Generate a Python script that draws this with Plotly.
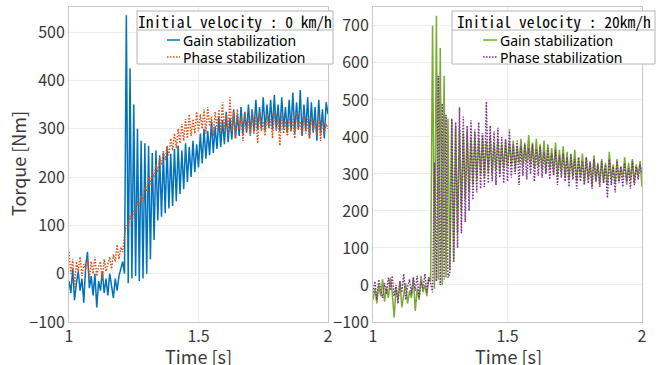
import numpy as np
import plotly.graph_objects as go

# ---------------- data ----------------
N_SAMPLES = 141
time_s = np.linspace(1.0, 2.0, N_SAMPLES)

gain_0kmh = [
    -15, -40, 10, -55, -20, 5, -35, -10, -60, 15,
    45, -30, -5, -45, 0, -70, -15, -35, 5, -40,
    -10, -45, 0, -30, -50, -10, -35, -5, 10, 25,
    0, 535, -20, 425, -10, 350, -5, 300, -15, 275,
    -10, 270, 0, 265, 30, 250, 70, 255, 110, 245,
    118, 250, 125, 262, 135, 248, 140, 258, 150, 265,
    165, 255, 175, 270, 190, 262, 200, 275, 210, 268,
    220, 290, 228, 300, 238, 295, 245, 315, 250, 305,
    258, 325, 262, 318, 268, 335, 272, 322, 278, 340,
    280, 330, 285, 345, 288, 335, 292, 350, 290, 340,
    295, 360, 298, 345, 300, 365, 296, 350, 302, 360,
    298, 370, 300, 350, 295, 365, 300, 345, 292, 360,
    295, 375, 290, 355, 298, 380, 285, 350, 295, 365,
    280, 355, 292, 345, 275, 360, 290, 340, 280, 355,
    330,
]

phase_0kmh = [
    45, 0, 30, -30, 25, 5, 35, -5, 20, 10,
    30, -10, 25, 0, 35, -5, 15, 25, -15, 30,
    5, 20, 35, 10, 40, 25, 60, 30, 55, 45,
    80, 100, 95, 120, 110, 130, 125, 150, 140, 160,
    150, 180, 170, 200, 185, 210, 200, 225, 210, 240,
    225, 255, 235, 265, 245, 280, 255, 290, 260, 300,
    270, 310, 275, 320, 280, 330, 285, 320, 290, 335,
    295, 330, 300, 340, 290, 345, 305, 325, 285, 335,
    300, 340, 290, 355, 300, 330, 285, 365, 295, 335,
    280, 340, 300, 325, 275, 335, 295, 320, 285, 340,
    290, 325, 270, 335, 295, 315, 285, 330, 300, 320,
    280, 335, 295, 320, 265, 330, 290, 315, 285, 325,
    295, 320, 280, 335, 300, 315, 285, 330, 290, 320,
    280, 325, 295, 315, 285, 330, 275, 320, 290, 310,
    300,
]

gain_20kmh = [
    -40, -10, -50, 0, -30, 15, -45, -5, -35, 20,
    -20, -88, -5, -40, 10, -60, -25, 5, -50, -15,
    -35, 20, -70, -10, -40, 25, -20, 0, -30, 20,
    10, 700, -10, 727, 15, 640, 0, 565, 20, 450,
    40, 445, 62, 430, 140, 420, 200, 410, 230, 415,
    250, 400, 270, 410, 285, 395, 300, 405, 290, 390,
    305, 400, 300, 385, 310, 395, 300, 380, 315, 390,
    320, 385, 325, 390, 310, 375, 330, 395, 320, 380,
    330, 405, 325, 385, 315, 395, 320, 380, 310, 390,
    305, 380, 315, 370, 300, 385, 295, 365, 305, 375,
    290, 360, 285, 350, 295, 365, 280, 345, 290, 355,
    275, 345, 285, 335, 270, 350, 280, 330, 275, 340,
    280, 330, 270, 360, 285, 325, 275, 340, 280, 320,
    290, 345, 270, 330, 285, 340, 275, 325, 295, 335,
    265,
]

phase_20kmh = [
    -20, 10, -40, 15, -10, -35, 5, -25, 20, -15,
    25, -30, 0, -50, 10, -20, 30, -40, -5, 15,
    -25, 20, -15, 25, -35, 10, -10, 30, -20, 20,
    5, -20, 330, 10, 565, 0, 490, 15, 460, 20,
    30, 450, 60, 440, 100, 480, 140, 455, 170, 430,
    200, 445, 230, 420, 250, 440, 260, 410, 265, 495,
    275, 430, 280, 415, 270, 425, 290, 400, 275, 395,
    280, 420, 290, 380, 300, 390, 270, 375, 295, 385,
    285, 370, 300, 380, 280, 365, 295, 375, 290, 360,
    300, 370, 285, 355, 295, 365, 270, 350, 290, 355,
    280, 345, 265, 355, 285, 340, 260, 345, 280, 335,
    270, 345, 275, 330, 260, 340, 280, 325, 265, 335,
    275, 325, 235, 340, 270, 320, 250, 335, 275, 320,
    265, 330, 280, 315, 260, 335, 270, 320, 285, 325,
    300,
]

x_tick_vals = [1, 1.5, 2]
x_tick_text = ["1", "1.5", "2"]
y_ticks_left = [-100, 0, 100, 200, 300, 400, 500]
y_ticks_right = [-100, 0, 100, 200, 300, 400, 500, 600, 700]

legend_titles = ["Initial velocity : 0 km/h", "Initial velocity : 20km/h"]
legend_labels = ["Gain stabilization", "Phase stabilization"]

# ---------------- styling ----------------
W, H = 671, 365
BLUE, ORANGE, GREEN, PURPLE = "#0072BD", "#D95319", "#77AC30", "#7E2F8E"
DOT = "1.5px,1.5px"
FONT = "Noto Sans CJK JP, Noto Sans, sans-serif"
LEGFONT = "Noto Sans, Open Sans, sans-serif"
MONO = "Noto Sans Mono CJK JP, Liberation Mono, monospace"
TXT = "#3a3a3a"
BOX = "#c8c8c8"
GRID = "#ececec"


def px(x):
    return x / W


def py(y):
    return 1 - y / H


fig = go.Figure()
fig.add_trace(go.Scatter(x=time_s, y=gain_0kmh, mode="lines",
                         line=dict(color=BLUE, width=1.5), xaxis="x", yaxis="y"))
fig.add_trace(go.Scatter(x=time_s, y=phase_0kmh, mode="lines",
                         line=dict(color=ORANGE, width=1.5, dash=DOT), xaxis="x", yaxis="y"))
fig.add_trace(go.Scatter(x=time_s, y=gain_20kmh, mode="lines",
                         line=dict(color=GREEN, width=1.5), xaxis="x2", yaxis="y2"))
fig.add_trace(go.Scatter(x=time_s, y=phase_20kmh, mode="lines",
                         line=dict(color=PURPLE, width=1.5, dash=DOT), xaxis="x2", yaxis="y2"))

common_x = dict(range=[1, 2], tickvals=x_tick_vals, ticktext=x_tick_text,
                showline=True, mirror=True, linecolor=BOX, linewidth=1,
                showgrid=True, gridcolor=GRID, zeroline=False, ticks="",
                automargin=False,
                tickfont=dict(family=FONT, size=16, color=TXT))
common_y = dict(showline=True, mirror=True, linecolor=BOX, linewidth=1,
                showgrid=True, gridcolor=GRID, zeroline=False, ticks="",
                automargin=False,
                tickfont=dict(family=FONT, size=16, color=TXT),
                domain=[py(322), py(7)])

fig.update_layout(
    width=W, height=H, margin=dict(l=0, r=0, t=0, b=0, autoexpand=False),
    paper_bgcolor="white", plot_bgcolor="white", showlegend=False,
    xaxis=dict(domain=[px(69), px(328)], anchor="y", **common_x),
    yaxis=dict(range=[-100, 552], tickvals=y_ticks_left, anchor="x", **common_y),
    xaxis2=dict(domain=[px(373), px(642)], anchor="y2", **common_x),
    yaxis2=dict(range=[-100, 751], tickvals=y_ticks_right, anchor="x2", **common_y),
)

shapes = []
annotations = []

# axis titles
annotations.append(dict(x=px(18), y=py(164), xref="paper", yref="paper",
                        text="Torque [Nm]", textangle=-90, showarrow=False,
                        xanchor="center", yanchor="middle",
                        font=dict(family=FONT, size=18, color=TXT)))
for cx in (198, 508):
    annotations.append(dict(x=px(cx), y=py(356), xref="paper", yref="paper",
                            text="Time [s]", showarrow=False,
                            xanchor="center", yanchor="middle",
                            font=dict(family=FONT, size=18, color=TXT)))

# custom legends
legend_specs = [
    dict(x0=137, x1=333, line_x0=167, line_x1=180, text_x=181,
         colors=(BLUE, ORANGE), title=legend_titles[0]),
    dict(x0=452, x1=655, line_x0=483, line_x1=497, text_x=498,
         colors=(GREEN, PURPLE), title=legend_titles[1]),
]
for spec in legend_specs:
    shapes.append(dict(type="rect", xref="paper", yref="paper",
                       x0=px(spec["x0"]), x1=px(spec["x1"]), y0=py(64), y1=py(11),
                       fillcolor="white", line=dict(color="#b4b4b4", width=1), layer="above"))
    shapes.append(dict(type="line", xref="paper", yref="paper",
                       x0=px(spec["x0"]), x1=px(spec["x1"]), y0=py(30), y1=py(30),
                       line=dict(color="#b4b4b4", width=1), layer="above"))
    annotations.append(dict(x=px((spec["x0"] + spec["x1"]) / 2), y=py(21),
                            xref="paper", yref="paper", text=spec["title"],
                            showarrow=False, xanchor="center", yanchor="middle",
                            font=dict(family=MONO, size=15.5, color="black")))
    for k, (yy, lab) in enumerate(zip((40, 57), legend_labels)):
        shapes.append(dict(type="line", xref="paper", yref="paper",
                           x0=px(spec["line_x0"]), x1=px(spec["line_x1"]),
                           y0=py(yy), y1=py(yy), layer="above",
                           line=dict(color=spec["colors"][k], width=1.5,
                                     dash=None if k == 0 else DOT)))
        annotations.append(dict(x=px(spec["text_x"]), y=py(yy), xref="paper", yref="paper",
                                text=lab, showarrow=False, xanchor="left", yanchor="middle",
                                font=dict(family=LEGFONT, size=14, color="black")))

fig.update_layout(shapes=shapes, annotations=annotations)
fig.write_html("out.html")
